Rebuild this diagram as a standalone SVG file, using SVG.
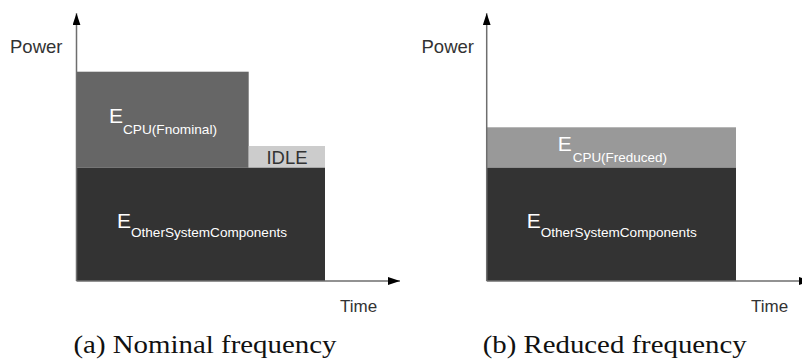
<svg xmlns="http://www.w3.org/2000/svg" width="802" height="363" viewBox="0 0 802 363">
<style>
.ax{stroke:#6e6e6e;stroke-width:1.5;fill:none}
.lbl{font-family:"Liberation Sans",Arial,sans-serif;fill:#333333}
.e{font-family:"Liberation Sans",Arial,sans-serif;fill:#ffffff;font-size:21px}
.sub{font-family:"Liberation Sans",Arial,sans-serif;fill:#ffffff;font-size:13.5px}
.cap{font-family:"Liberation Serif","Times New Roman",serif;fill:#111111;font-size:25px}
</style>
<defs>
<marker id="arr" markerWidth="12" markerHeight="8" refX="12" refY="4" orient="auto" markerUnits="userSpaceOnUse">
<path d="M0,0 L12,4 L0,8 Z" fill="#000"/>
</marker>
</defs>
<rect width="802" height="363" fill="#ffffff"/>
<g id="panel-a">
<g id="a-cpu"><rect x="76.5" y="71.7" width="172.2" height="96" fill="#666666"/>
<text class="e" x="109" y="123">E</text><text class="sub" x="123" y="134" textLength="94" lengthAdjust="spacingAndGlyphs">CPU(Fnominal)</text></g>
<g id="a-idle"><rect x="248.7" y="146" width="76.3" height="21.7" fill="#cccccc"/>
<text class="lbl" x="266.5" y="164" font-size="17.5" textLength="41" lengthAdjust="spacingAndGlyphs">IDLE</text></g>
<g id="a-other"><rect x="76.5" y="167.7" width="248.5" height="113.3" fill="#333333"/>
<text class="e" x="117" y="228">E</text><text class="sub" x="131" y="237" textLength="156" lengthAdjust="spacingAndGlyphs">OtherSystemComponents</text></g>
<text class="lbl" x="10" y="53" font-size="18.5">Power</text>
<text class="lbl" x="340" y="312" font-size="17">Time</text>
<text class="cap" x="73.5" y="353" textLength="263" lengthAdjust="spacingAndGlyphs">(a) Nominal frequency</text>
</g>
<g id="panel-b">
<g id="b-cpu"><rect x="486.7" y="127.3" width="249.3" height="40.4" fill="#999999"/>
<text class="e" x="557.7" y="150.7">E</text><text class="sub" x="572.7" y="162" textLength="94.3" lengthAdjust="spacingAndGlyphs">CPU(Freduced)</text></g>
<g id="b-other"><rect x="486.7" y="167.7" width="249.3" height="113.3" fill="#333333"/>
<text class="e" x="526.7" y="228">E</text><text class="sub" x="540.7" y="237" textLength="156" lengthAdjust="spacingAndGlyphs">OtherSystemComponents</text></g>
<text class="lbl" x="421.5" y="53" font-size="18.5">Power</text>
<text class="lbl" x="751" y="312" font-size="17">Time</text>
<text class="cap" x="482.7" y="353" textLength="264" lengthAdjust="spacingAndGlyphs">(b) Reduced frequency</text>
</g>
<g id="connectors">
<line class="ax" x1="76.5" y1="281" x2="76.5" y2="13.3" marker-end="url(#arr)"/>
<line class="ax" x1="76.5" y1="281" x2="400" y2="281" marker-end="url(#arr)"/>
<line class="ax" x1="486.7" y1="281" x2="486.7" y2="13.3" marker-end="url(#arr)"/>
<line class="ax" x1="486.7" y1="281" x2="811" y2="281" marker-end="url(#arr)"/>
</g>
</svg>
